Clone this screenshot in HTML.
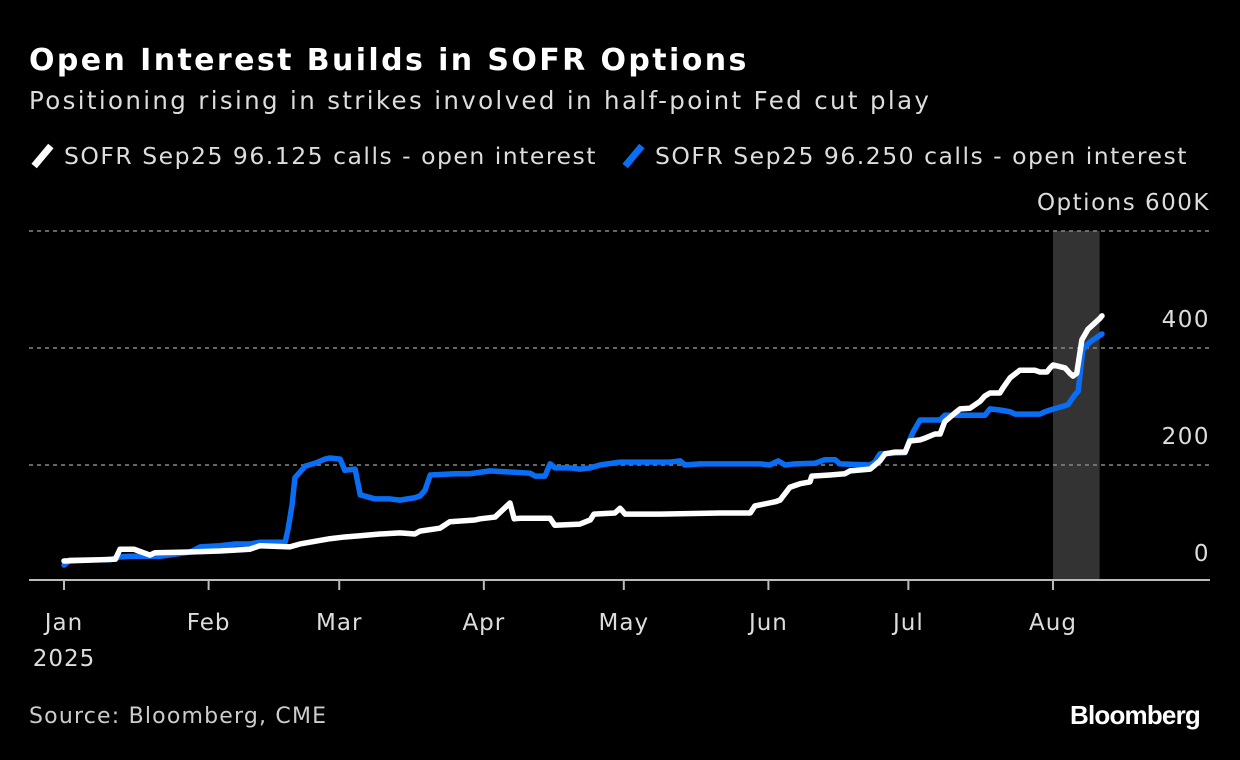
<!DOCTYPE html>
<html><head><meta charset="utf-8"><style>
body{margin:0;background:#000;width:1240px;height:760px;overflow:hidden;font-family:"DejaVu Sans","Liberation Sans",sans-serif;color:#fff}
.t{position:absolute;white-space:nowrap}
</style></head><body>
<div class="t" style="left:29px;top:43px;font-size:30px;font-weight:bold;letter-spacing:2.4px">Open Interest Builds in SOFR Options</div>
<div class="t" style="left:29px;top:86px;font-size:24.5px;color:#ddd;letter-spacing:2.35px">Positioning rising in strikes involved in half-point Fed cut play</div>
<div class="t" style="left:29px;top:142px;font-size:23.5px;color:#ddd;letter-spacing:1.5px"><span style="display:inline-block;width:7px;height:26px;background:#fff;transform:rotate(40deg);margin:0 18px -5px 10px"></span>SOFR Sep25 96.125 calls - open interest</div>
<div class="t" style="left:620px;top:142px;font-size:23.5px;color:#ddd;letter-spacing:1.5px"><span style="display:inline-block;width:7px;height:26px;background:#0a6ef5;transform:rotate(40deg);margin:0 18px -5px 10px"></span>SOFR Sep25 96.250 calls - open interest</div>
<div class="t" style="left:29px;top:704px;font-size:22px;color:#ccc;letter-spacing:1.2px">Source: Bloomberg, CME</div>
<div class="t" style="right:40px;top:700px;font-size:26px;font-weight:bold;letter-spacing:-0.8px;font-family:'Liberation Sans',sans-serif">Bloomberg</div>
<svg id="c" width="1240" height="760" style="position:absolute;left:0;top:0"></svg>
<script>
const months=["Jan","Feb","Mar","Apr","May","Jun","Jul","Aug"];
const monthDays=[0,31,59,90,120,151,181,212];
const yTicks=[0,200,400,600];
const whiteDays=[0,8,11,12,15,18.4,19.5,26,33.4,39.8,42,48.4,50.6,57,60.2,63.5,67.7,72,75.2,76.3,80.6,82.7,88.1,89.2,92.4,95.6,96.5,97.7,104.2,105.2,110.6,112.8,113.6,118.1,119.2,120.3,127.8,140.6,147.1,148.1,152.4,153.5,155.6,157.8,159.9,160.3,164.2,167.4,168.5,172.8,174.9,176,178.1,180.3,181.3,183.5,184.6,186.7,187.8,188.8,191,192.1,194.2,196.4,197.4,198.5,200.6,201.3,202.8,204.9,208.1,209.2,210.7,211.4,212,214.6,215.6,216.3,217.1,218.2,219.5,222.1,222.5];
const whiteVals=[36,38,39,56,56,46,50,51,53,56,62,60,65,74,77,79,82,84,82,87,92,103,106,108,111,135,108,109,109,97,99,106,116,118,126,116,116,118,118,130,137,140,162,168,171,181,183,185,190,193,207,219,222,222,241,243,246,253,253,274,289,296,297,309,318,323,323,332,349,362,362,359,359,366,371,366,357,352,357,414,432,451,455];
const blueDays=[0,1.3,9.9,12,14.1,20.6,27,29.2,33.4,36.7,39.9,42,47.4,48,48.9,49.5,51.7,53.8,55.9,57,59.2,60.2,62.4,63.5,66.7,69.9,72,75.2,76.3,77.4,78.5,83.8,87,91.3,95.6,99.9,101,103.1,104.2,105.3,108.5,110.6,112.8,114.9,119.2,123.5,129.9,132.1,133.1,136.3,142.8,149.2,151.3,153.1,154.6,156.7,161,163.1,165.3,166.3,172.8,173.8,174.9,180.3,181.3,182,183.5,187.8,188.8,194.2,197.4,198.5,200.6,202.8,203.9,209.2,210.3,211.4,213.5,215.2,216.7,217.4,218.4,219.9,222.5];
const blueVals=[29,38,38,43,44,44,51,60,62,65,65,68,68,89,132,178,198,203,210,212,210,191,193,149,142,142,140,144,147,157,183,185,185,190,188,186,181,181,202,195,195,193,195,200,205,205,205,207,200,202,202,202,200,207,200,202,203,209,209,202,200,205,219,221,243,256,277,277,285,285,285,296,294,291,287,287,291,294,299,303,320,326,397,410,424];
const shadeStart=212, shadeEnd=222;
const NS="http://www.w3.org/2000/svg",svg=document.getElementById('c');
const X=d=>64+d*4.665, Y=v=>582-v*117/200;
const FF='DejaVu Sans, Liberation Sans, sans-serif';
function el(t,a){const e=document.createElementNS(NS,t);for(const k in a)e.setAttribute(k,a[k]);svg.appendChild(e);return e;}
let r=el('rect',{x:X(shadeStart),y:231,width:X(shadeEnd)-X(shadeStart),height:349,fill:'#333'});


yTicks.forEach(v=>{
 if(v>0){let g=el('line',{x1:29,x2:1210,y1:Y(v),y2:Y(v),stroke:'#888','stroke-width':1.5,'stroke-dasharray':'4 4'});
 
 }
 let t=el('text',{x:1210,y:Y(v)-21,'text-anchor':'end','font-size':23,fill:'#ddd','font-family':FF,'letter-spacing':1.5});
 t.textContent=v===600?'Options  600K':String(v);
 
 
});
let ax=el('line',{x1:29,x2:1210,y1:580,y2:580,stroke:'#bbb','stroke-width':2});


months.forEach((m,i)=>{
 const x=X(monthDays[i]);
 let tk=el('line',{x1:x,x2:x,y1:580,y2:590,stroke:'#bbb','stroke-width':2});
 
 
 let t=el('text',{x:x,y:630,'text-anchor':'middle','font-size':23,fill:'#ddd','font-family':FF,'letter-spacing':1});
 t.textContent=m;
 
 
});
let yr=el('text',{x:X(0),y:666,'text-anchor':'middle','font-size':23,fill:'#ddd','font-family':FF,'letter-spacing':1});
yr.textContent='2025';


function line(ds,vs,c,n){
 const p=el('polyline',{points:ds.map((d,i)=>X(d)+','+Y(vs[i])).join(' '),fill:'none',stroke:c,'stroke-width':5.5,'stroke-linejoin':'round','stroke-linecap':'round'});
 
 
}
line(blueDays,blueVals,'#0a6ef5','series-96250-line');
line(whiteDays,whiteVals,'#fff','series-96125-line');
</script>
</body></html>
